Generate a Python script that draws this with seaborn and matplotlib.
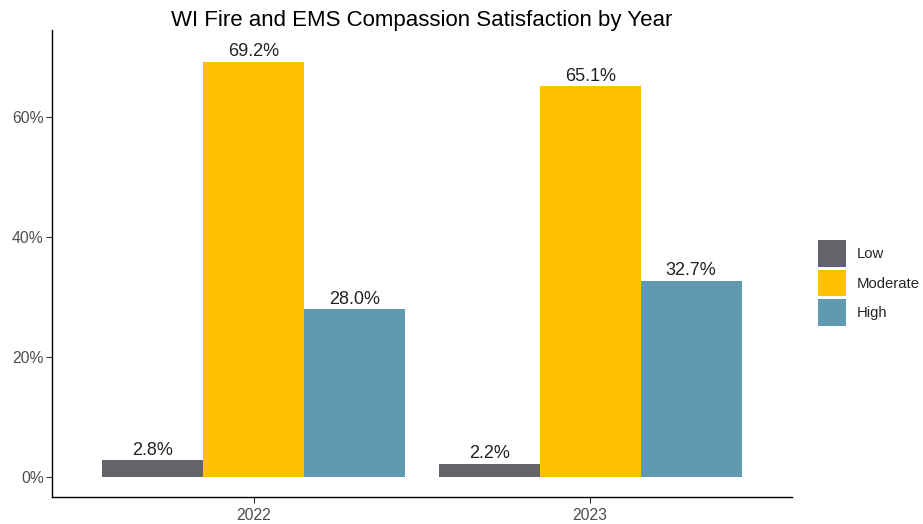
import matplotlib
matplotlib.use("Agg")
import matplotlib.pyplot as plt
from matplotlib.patches import Patch
import seaborn as sns
import pandas as pd

years = ["2022", "2023"]
levels = ["Low", "Moderate", "High"]
low = [2.8, 2.2]
moderate = [69.2, 65.1]
high = [28.0, 32.7]
colors = ["#636369", "#FFC000", "#5F9AB0"]

df = pd.DataFrame({
    "Year": years * 3,
    "Level": ["Low"] * 2 + ["Moderate"] * 2 + ["High"] * 2,
    "Pct": low + moderate + high,
})

sns.set_theme(style="white")
plt.rcParams["font.family"] = ["Liberation Sans", "DejaVu Sans"]

fig = plt.figure(figsize=(9.23, 5.24), dpi=100)
ax = fig.add_axes([52 / 923, 27 / 524, 740 / 923, 467 / 524])

sns.barplot(data=df, x="Year", y="Pct", hue="Level", order=years,
            hue_order=levels, palette=colors, width=0.9, saturation=1,
            linewidth=0, errorbar=None, ax=ax, legend=False)

for cont in ax.containers:
    ax.bar_label(cont, labels=[f"{v:.1f}%" for v in cont.datavalues],
                 padding=1, fontsize=13, color="#222222")

ax.set_xlim(-0.6, 1.6)
ax.set_ylim(-3.35, 74.5)
ax.set_yticks([0, 20, 40, 60])
ax.set_yticklabels(["0%", "20%", "40%", "60%"])
ax.set_xlabel("")
ax.set_ylabel("")
ax.tick_params(axis="both", labelcolor="#4D4D4D", color="#333333",
               labelsize=11.3, length=4, width=0.8, direction="out",
               left=True, bottom=True, pad=2)
ax.tick_params(axis="x", pad=4)
for side in ["top", "right"]:
    ax.spines[side].set_visible(False)
for side in ["left", "bottom"]:
    ax.spines[side].set_color("#000000")
    ax.spines[side].set_linewidth(1.0)

ax.set_title("WI Fire and EMS Compassion Satisfaction by Year",
             fontsize=16, color="#000000", pad=3)

handles = [Patch(facecolor=c, edgecolor="none", label=l)
           for c, l in zip(colors, levels)]
fig.legend(handles=handles, loc="center left",
           bbox_to_anchor=(818 / 923, 1 - 283 / 524),
           frameon=False, fontsize=10.7, handlelength=1.9, handleheight=2.4,
           handletextpad=0.7, labelspacing=0.2, borderaxespad=0, borderpad=0)

fig.savefig("out.png", dpi=100)
